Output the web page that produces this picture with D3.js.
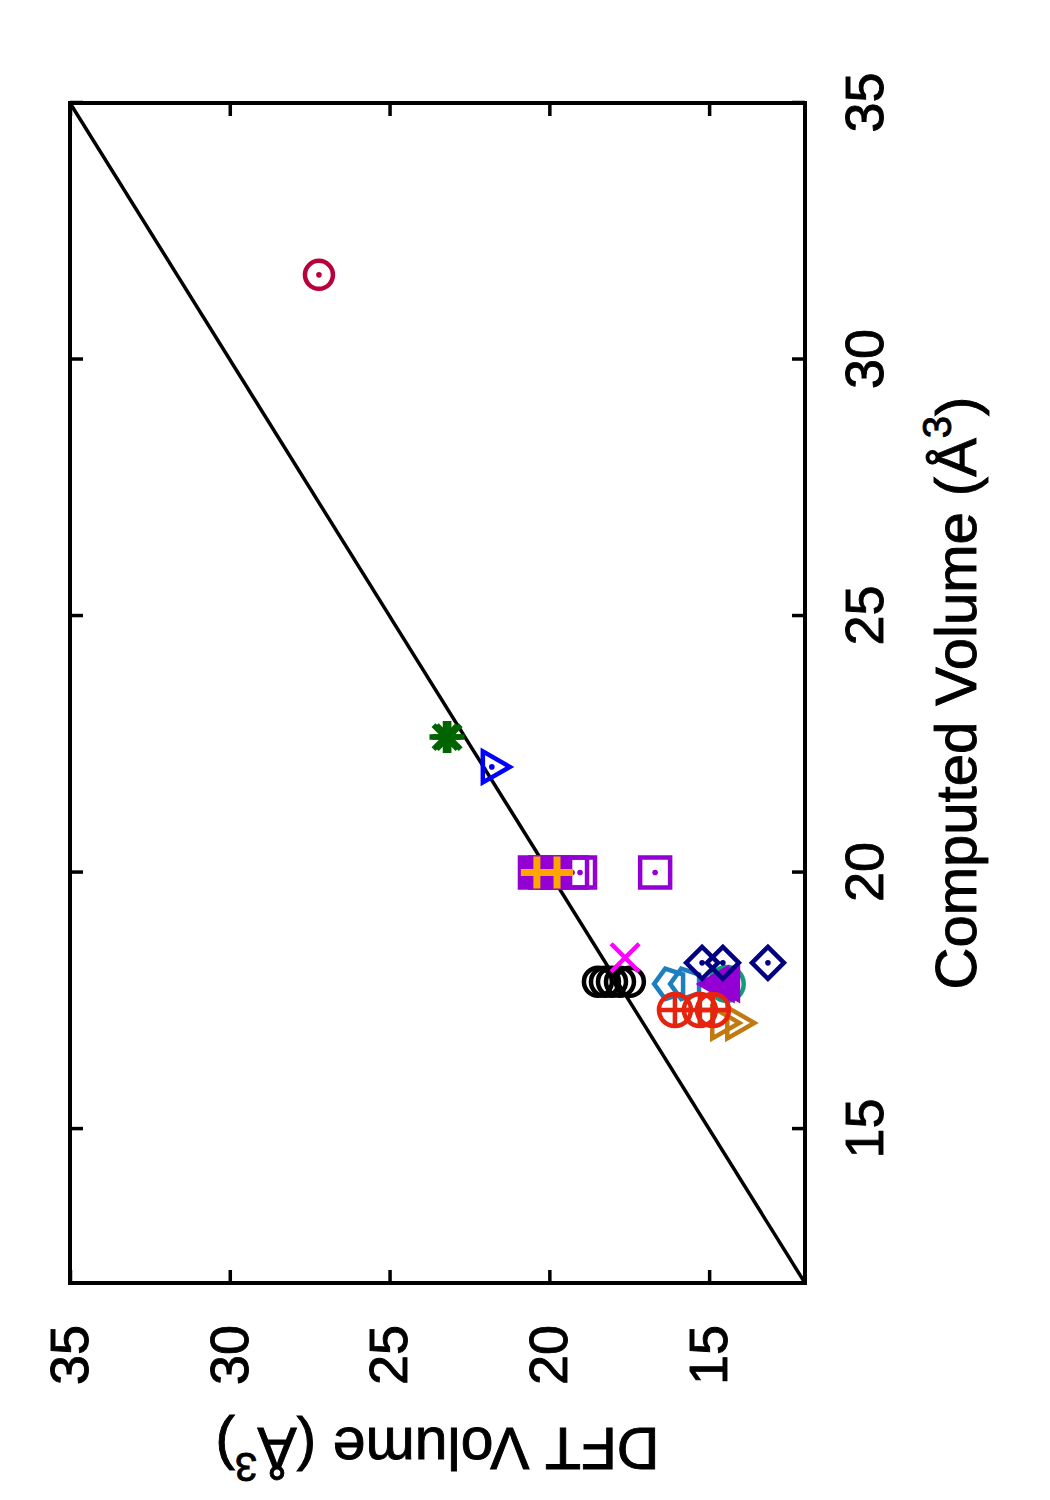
<!DOCTYPE html>
<html>
<head>
<meta charset="utf-8">
<script src="https://cdn.jsdelivr.net/npm/d3@7"></script>
<style>
  body { margin: 0; background: #fff; }
  text { font-family: "Liberation Sans", Arial, Helvetica, sans-serif; }
</style>
</head>
<body>
<div id="chart"></div>
<script>
// values: [computed volume, DFT volume]
var axisTicks      = [15, 20, 25, 30, 35];
var parityLine     = [[12, 12], [35, 35]];
var blackCircles   = [[17.87, 18.48], [17.87, 18.26], [17.87, 18.04], [17.87, 17.79], [17.87, 17.48]];
var magentaCross   = [[18.34, 17.63]];
var bluePentagons  = [[17.83, 16.22], [17.83, 15.72]];
var tealCircles    = [[17.83, 14.45]];
var violetTris     = [[17.83, 14.72], [17.83, 14.55], [17.83, 14.38]];
var brownTris      = [[17.07, 14.62], [17.07, 14.15]];
var redCirclePlus  = [[17.32, 16.07], [17.32, 15.29], [17.32, 14.88]];
var navyDiamonds   = [[18.24, 15.22], [18.24, 14.57], [18.24, 13.16]];
var violetSquares  = [[20.0, 20.45], [20.0, 20.13], [20.0, 19.82]];
var violetOpenSq   = [[20.0, 19.29], [20.0, 19.04], [20.0, 16.69]];
var orangePlus     = [[20.0, 20.39], [20.0, 19.76]];
var blueTri        = [[22.06, 21.8]];
var greenStars     = [[22.64, 23.25], [22.64, 23.15]];
var crimsonCircle  = [[31.65, 27.21]];

var series = [
  { data: blackCircles,  shape: "circle",      color: "#000000", r: 14 },
  { data: magentaCross,  shape: "cross",       color: "#ff00ff" },
  { data: bluePentagons, shape: "pentagon",    color: "#1e7fc0" },
  { data: tealCircles,   shape: "circle",      color: "#129d78", r: 17 },
  { data: violetTris,    shape: "triUpFill",   color: "#9400d3" },
  { data: brownTris,     shape: "triDown",     color: "#c07a10" },
  { data: redCirclePlus, shape: "circlePlus",  color: "#e5230f", r: 16 },
  { data: navyDiamonds,  shape: "diamondDot",  color: "#000080" },
  { data: violetSquares, shape: "squareFill",  color: "#9400d3" },
  { data: violetOpenSq,  shape: "squareDot",   color: "#9400d3" },
  { data: orangePlus,    shape: "plus",        color: "#ffa500" },
  { data: blueTri,       shape: "triDownDot",  color: "#0000ff" },
  { data: greenStars,    shape: "star",        color: "#006400" },
  { data: crimsonCircle, shape: "circleDot",   color: "#b8003a", r: 14 }
];

// the gnuplot page is landscape, turned a quarter left on the portrait page
var W = 1500, H = 1050,
    pl = 217, pr = 1397, pt = 70, pb = 805,
    x = d3.scaleLinear().domain([12, 35]).range([pl, pr]),
    y = d3.scaleLinear().domain([12, 35]).range([pb, pt]);

var svg = d3.select("#chart")
    .append("svg")
    .attr("width", H)
    .attr("height", W);

var vis = svg.append("g")
    .attr("transform", "translate(0," + W + ") rotate(-90)");

function styleAxis(g) {
  g.select(".domain").remove();
  g.selectAll(".tick line").attr("stroke", "#000").attr("stroke-width", 3.5);
  g.selectAll(".tick text")
    .attr("fill", "#000")
    .attr("stroke", "#000")
    .attr("stroke-width", 0.9)
    .style("font-size", "54px");
}

vis.append("g")
  .attr("transform", "translate(0," + pb + ")")
  .call(d3.axisBottom(x).tickValues(axisTicks).tickSizeInner(-13).tickSizeOuter(0).tickPadding(40))
  .call(styleAxis);

vis.append("g")
  .attr("transform", "translate(0," + pt + ")")
  .call(d3.axisTop(x).tickValues(axisTicks).tickSizeInner(-13).tickSizeOuter(0).tickFormat(""))
  .call(styleAxis);

vis.append("g")
  .attr("transform", "translate(" + pl + ",0)")
  .call(d3.axisLeft(y).tickValues(axisTicks).tickSizeInner(-13).tickSizeOuter(0).tickPadding(42))
  .call(styleAxis);

vis.append("g")
  .attr("transform", "translate(" + pr + ",0)")
  .call(d3.axisRight(y).tickValues(axisTicks).tickSizeInner(-13).tickSizeOuter(0).tickFormat(""))
  .call(styleAxis);

var line = d3.line()
    .x(function(d) { return x(d[0]); })
    .y(function(d) { return y(d[1]); });

vis.append("path")
  .attr("d", line(parityLine))
  .attr("fill", "none")
  .attr("stroke", "#000")
  .attr("stroke-width", 3.5);

vis.append("rect")
  .attr("x", pl)
  .attr("y", pt)
  .attr("width", pr - pl)
  .attr("height", pb - pt)
  .attr("fill", "none")
  .attr("stroke", "#000")
  .attr("stroke-width", 4);

// marker outlines, centred on 0,0 in the unrotated frame
function pts(list) { return "M" + list.map(function(p) { return p[0] + "," + p[1]; }).join("L") + "Z"; }
function markerPath(shape, rr) {
  var r = 15, t = 18, i, p = [];
  switch (shape) {
    case "cross":   return "M-14,-14L14,14M-14,14L14,-14";
    case "plus":    return "M-16,0H16M0,-16V16";
    case "star":    return "M-16,0H16M0,-16V16M-12,-12L12,12M-12,12L12,-12";
    case "pentagon":
      for (i = 0; i < 5; i++) {
        var a = -Math.PI / 2 + i * 2 * Math.PI / 5;
        p.push([16 * Math.cos(a), 16 * Math.sin(a)]);
      }
      return pts(p);
    case "triUpFill":  return pts([[0, -t], [t * 0.866, t / 2], [-t * 0.866, t / 2]]);
    case "triDown":
    case "triDownDot": return pts([[0, t], [t * 0.866, -t / 2], [-t * 0.866, -t / 2]]);
    case "diamondDot": return pts([[0, -16], [16, 0], [0, 16], [-16, 0]]);
    case "squareFill":
    case "squareDot":  return pts([[-r, -r], [r, -r], [r, r], [-r, r]]);
    case "circlePlus": return "M" + (-rr) + ",0H" + rr + "M0," + (-rr) + "V" + rr;
  }
  return null;
}

series.forEach(function(s) {
  var g = vis.append("g")
      .selectAll("g")
      .data(s.data)
      .enter()
      .append("g")
      .attr("transform", function(d) { return "translate(" + x(d[0]) + "," + y(d[1]) + ")"; });

  var filled = s.shape === "triUpFill" || s.shape === "squareFill";

  if (s.shape.indexOf("circle") === 0) {
    g.append("circle")
      .attr("r", s.r)
      .attr("fill", "none")
      .attr("stroke", s.color)
      .attr("stroke-width", 4.5);
  }
  var d = markerPath(s.shape, s.r);
  if (d) {
    g.append("path")
      .attr("d", d)
      .attr("fill", filled ? s.color : "none")
      .attr("stroke", s.color)
      .attr("stroke-width", s.shape === "plus" ? 7 : (s.shape === "star" ? 5.5 : 4.5))
      .attr("stroke-linejoin", "miter");
  }
  if (/Dot$/.test(s.shape)) {
    g.append("circle")
      .attr("r", 2.8)
      .attr("fill", s.color);
  }
});

// axis titles
var xl = vis.append("text")
    .attr("x", (pl + pr) / 2)
    .attr("y", 976)
    .attr("text-anchor", "middle")
    .attr("stroke", "#000")
    .attr("stroke-width", 0.9)
    .style("font-size", "58px");
xl.append("tspan").text("Computed Volume (Å");
xl.append("tspan").attr("dy", "-0.62em").style("font-size", "40px").text("3");
xl.append("tspan").attr("dy", "0.44em").text(")");

var yl = vis.append("text")
    .attr("transform", "translate(72," + ((pt + pb) / 2) + ") rotate(-90)")
    .attr("text-anchor", "middle")
    .attr("stroke", "#000")
    .attr("stroke-width", 0.9)
    .style("font-size", "59px");
yl.append("tspan").text("DFT Volume (Å");
yl.append("tspan").attr("dy", "-0.62em").style("font-size", "40px").text("3");
yl.append("tspan").attr("dy", "0.44em").text(")");
</script>
</body>
</html>
